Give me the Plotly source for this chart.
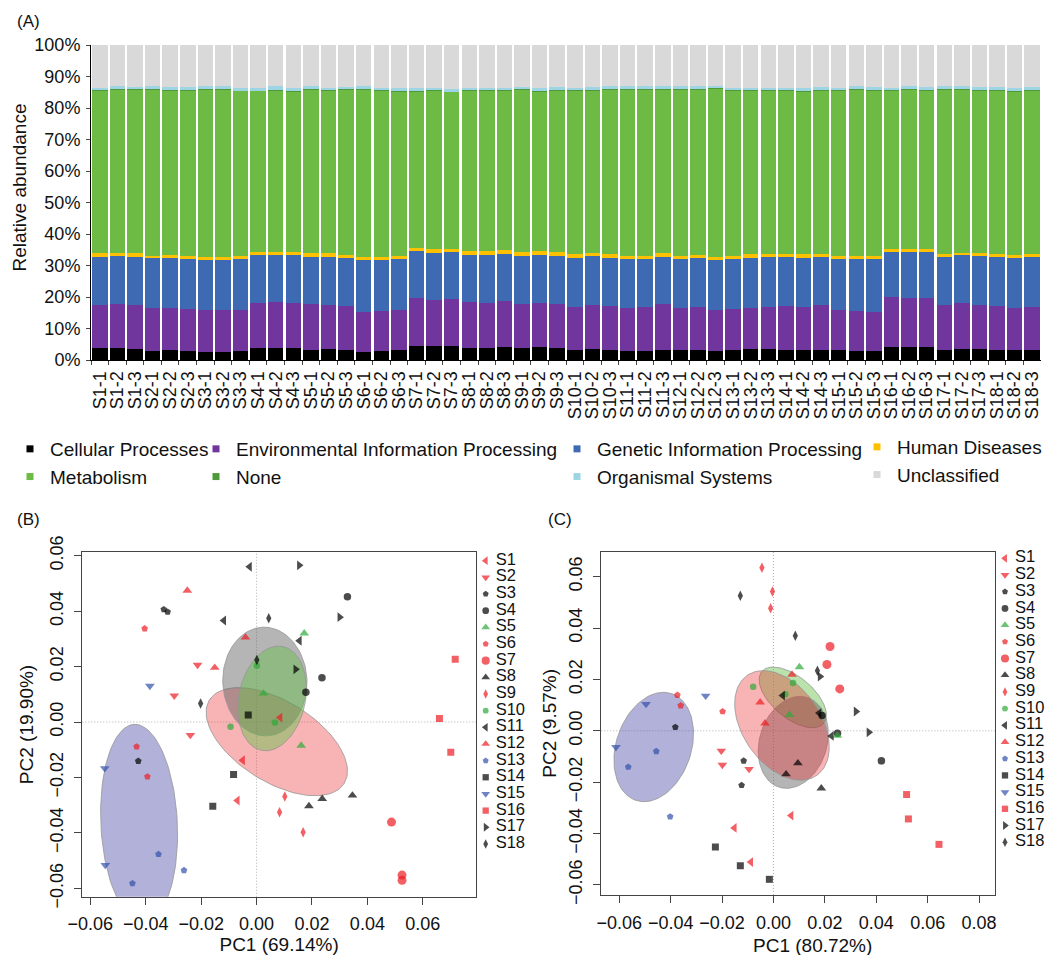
import numpy as np
import plotly.graph_objects as go

# ---------------- Panel A data (relative abundance, %) ----------------
samples = ["S1-1", "S1-2", "S1-3", "S2-1", "S2-2", "S2-3", "S3-1", "S3-2", "S3-3",
           "S4-1", "S4-2", "S4-3", "S5-1", "S5-2", "S5-3", "S6-1", "S6-2", "S6-3",
           "S7-1", "S7-2", "S7-3", "S8-1", "S8-2", "S8-3", "S9-1", "S9-2", "S9-3",
           "S10-1", "S10-2", "S10-3", "S11-1", "S11-2", "S11-3", "S12-1", "S12-2", "S12-3",
           "S13-1", "S13-2", "S13-3", "S14-1", "S14-2", "S14-3", "S15-1", "S15-2", "S15-3",
           "S16-1", "S16-2", "S16-3", "S17-1", "S17-2", "S17-3", "S18-1", "S18-2", "S18-3"]

cellular = [3.7, 3.7, 3.4, 3.0, 3.3, 3.0, 2.6, 2.6, 3.0, 3.7, 3.7, 3.7, 3.3, 3.6, 3.3,
            2.6, 3.0, 3.3, 4.6, 4.4, 4.4, 3.9, 3.9, 4.1, 3.9, 4.1, 3.9, 3.3, 3.6, 3.3,
            3.0, 3.0, 3.3, 3.3, 3.3, 2.9, 3.3, 3.6, 3.6, 3.3, 3.3, 3.3, 3.3, 3.0, 3.0,
            4.2, 4.0, 4.2, 3.3, 3.6, 3.6, 3.3, 3.3, 3.3]
environmental = [13.8, 14.1, 14.1, 13.4, 13.1, 13.2, 13.2, 13.2, 12.8, 14.5, 14.6, 14.3,
                 14.4, 13.9, 13.8, 12.7, 12.7, 12.6, 15.0, 14.6, 14.9, 14.4, 14.3, 14.5,
                 13.8, 14.1, 14.0, 13.4, 13.9, 13.8, 13.6, 13.7, 14.4, 13.3, 13.4, 13.0,
                 12.9, 12.8, 13.3, 13.8, 13.6, 14.1, 12.5, 12.7, 12.3, 15.7, 15.8, 15.6,
                 14.2, 14.4, 13.9, 13.8, 13.1, 13.6]
genetic = [15.3, 15.2, 15.3, 15.9, 15.9, 16.0, 16.1, 16.1, 16.3, 15.2, 15.1, 15.4,
           15.1, 15.2, 15.4, 16.4, 16.2, 16.2, 15.0, 15.0, 14.9, 15.1, 15.2, 15.2,
           15.3, 15.2, 15.2, 15.8, 15.4, 15.4, 15.6, 15.5, 15.1, 15.6, 15.8, 15.8,
           16.0, 16.1, 15.7, 15.5, 15.6, 15.2, 16.2, 16.3, 16.7, 14.3, 14.4, 14.4,
           15.3, 15.3, 15.4, 15.5, 16.1, 15.7]
human = [1.1, 0.9, 1.1, 0.8, 1.0, 0.7, 0.9, 0.9, 0.8, 1.0, 1.0, 1.0, 1.1, 1.2, 0.9,
         1.0, 0.9, 0.9, 1.1, 1.1, 1.0, 1.2, 1.2, 1.0, 1.3, 1.3, 1.2, 1.0, 1.1, 1.2,
         0.9, 0.9, 1.2, 0.9, 0.8, 1.0, 0.9, 1.0, 1.1, 0.9, 1.0, 0.9, 1.0, 0.9, 0.9,
         1.1, 1.0, 1.1, 1.0, 0.8, 1.0, 0.9, 0.8, 0.9]
metabolism = [51.7, 52.0, 51.9, 52.8, 52.4, 52.8, 53.0, 53.0, 52.5, 51.0, 51.3, 50.9,
              52.0, 51.6, 52.4, 53.1, 52.7, 52.3, 49.6, 50.4, 49.9, 50.9, 50.9, 50.7,
              51.5, 50.6, 51.4, 52.0, 51.7, 52.1, 52.8, 52.9, 51.8, 52.7, 52.6, 53.4,
              52.5, 52.1, 51.9, 52.1, 51.8, 52.2, 52.5, 52.9, 52.8, 50.2, 50.6, 50.4,
              52.1, 51.7, 51.8, 52.2, 52.0, 52.1]
none_cat = [0.1, 0.1, 0.1, 0.1, 0.1, 0.1, 0.1, 0.1, 0.1, 0.1, 0.1, 0.1, 0.1, 0.1, 0.1,
            0.1, 0.1, 0.1, 0.1, 0.1, 0.1, 0.1, 0.1, 0.1, 0.1, 0.1, 0.1, 0.1, 0.1, 0.1,
            0.1, 0.1, 0.1, 0.1, 0.1, 0.1, 0.1, 0.1, 0.1, 0.1, 0.1, 0.1, 0.1, 0.1, 0.1,
            0.1, 0.1, 0.1, 0.1, 0.1, 0.1, 0.1, 0.1, 0.1]
organismal = [0.8, 1.0, 0.8, 1.0, 0.8, 0.9, 1.0, 1.0, 0.8, 0.8, 1.1, 0.9, 1.0, 0.9, 0.9,
              1.1, 0.7, 0.8, 0.9, 0.9, 0.9, 0.9, 0.9, 0.9, 0.8, 0.9, 0.9, 0.7, 0.9, 1.0,
              1.0, 1.0, 1.0, 1.0, 1.0, 0.9, 0.8, 0.8, 0.8, 0.8, 0.9, 0.9, 0.7, 1.0, 0.9,
              0.7, 1.0, 0.9, 1.1, 1.1, 0.9, 0.9, 0.9, 1.0]
unclassified = [13.5, 13.0, 13.3, 13.0, 13.4, 13.3, 13.1, 13.1, 13.7, 13.7, 13.1, 13.7,
                13.0, 13.5, 13.2, 13.0, 13.7, 13.8, 13.7, 13.5, 13.9, 13.5, 13.5, 13.5,
                13.3, 13.7, 13.3, 13.7, 13.3, 13.1, 13.0, 12.9, 13.1, 13.1, 13.0, 12.9,
                13.5, 13.5, 13.5, 13.5, 13.7, 13.3, 13.7, 13.1, 13.3, 13.7, 13.1, 13.3,
                12.9, 13.0, 13.3, 13.3, 13.7, 13.3]

categories_A = ["Cellular Processes", "Environmental Information Processing",
                "Genetic Information Processing", "Human Diseases", "Metabolism",
                "None", "Organismal Systems", "Unclassified"]

# ---------------- Panels B/C data (PCA scores) ----------------
groups = ["S1", "S2", "S3", "S4", "S5", "S6", "S7", "S8", "S9", "S10",
          "S11", "S12", "S13", "S14", "S15", "S16", "S17", "S18"]

b_pc1 = [0.0085, -0.0050, -0.0069, -0.0213, -0.0297, -0.0239, -0.0335, -0.0321, -0.0427,
         0.0328, 0.0236, 0.0178, 0.0172, 0.0025, 0.0161, -0.0404, -0.0433, -0.0394,
         0.0487, 0.0525, 0.0525, 0.0346, 0.0237, 0.0189, 0.0102, 0.0083, 0.0168,
         0.0001, 0.0066, -0.0094, -0.0025, -0.0118, 0.0155, -0.0250, -0.0040, -0.0151,
         -0.0354, -0.0262, -0.0448, -0.0030, -0.0083, -0.0158, -0.0385, -0.0548, -0.0546,
         0.0717, 0.0660, 0.0701, 0.0154, 0.0300, 0.0141, 0.0044, 0.0001, -0.0202]
b_pc2 = [0.0016, -0.0138, -0.0283, 0.0206, 0.0095, -0.0047, 0.0406, 0.0397, -0.0141,
         0.0452, 0.0160, 0.0107, 0.0320, 0.0103, -0.0085, 0.0337, -0.0089, -0.0197,
         -0.0361, -0.0552, -0.0571, -0.0265, -0.0277, -0.0303, -0.0269, -0.0325, -0.0398,
         0.0203, -0.0002, -0.0017, 0.0560, 0.0366, 0.0293, 0.0474, 0.0305, 0.0196,
         -0.0477, -0.0535, -0.0582, 0.0025, -0.0189, -0.0304, 0.0130, -0.0167, -0.0516,
         0.0226, 0.0013, -0.0109, 0.0565, 0.0378, 0.0190, 0.0374, 0.0224, 0.0067]

c_pc1 = [0.0069, -0.0152, -0.0088, -0.0203, -0.0199, -0.0095, -0.0382, -0.0116, -0.0124,
         0.0189, 0.0249, 0.0420, 0.0101, 0.0062, 0.0249, -0.0374, -0.0361, -0.0198,
         0.0220, 0.0208, 0.0258, 0.0095, 0.0049, 0.0186, -0.0045, -0.0004, -0.0011,
         -0.0079, 0.0076, 0.0046, 0.0036, 0.0178, 0.0226, 0.0072, -0.0052, -0.0033,
         -0.0456, -0.0565, -0.0402, -0.0226, -0.0129, -0.0016, -0.0264, -0.0496, -0.0613,
         0.0518, 0.0525, 0.0644, 0.0181, 0.0321, 0.0371, -0.0129, 0.0085, 0.0171]
c_pc2 = [-0.0330, -0.0378, -0.0511, -0.0078, -0.0133, -0.0149, 0.0014, -0.0117, -0.0212,
         0.0060, -0.0010, -0.0117, 0.0248, 0.0062, -0.0019, 0.0139, 0.0098, 0.0075,
         0.0328, 0.0258, 0.0163, -0.0126, -0.0169, -0.0224, 0.0635, 0.0542, 0.0477,
         0.0171, 0.0186, 0.0142, 0.0137, 0.0069, -0.0020, 0.0219, 0.0111, 0.0029,
         -0.0080, -0.0141, -0.0334, -0.0452, -0.0525, -0.0578, 0.0136, 0.0104, -0.0064,
         -0.0248, -0.0343, -0.0442, 0.0211, 0.0075, -0.0006, 0.0526, 0.0370, 0.0234]

# ellipses: centre x, centre y, semi-major, semi-minor, angle (deg)
b_ell_cx = [0.0073, 0.0030, 0.0056, -0.0424]
b_ell_cy = [-0.0071, 0.0146, 0.0085, -0.0366]
b_ell_a = [0.0286, 0.0196, 0.0191, 0.0358]
b_ell_b = [0.0146, 0.0152, 0.0120, 0.0138]
b_ell_ang = [-31.7, 92.0, 78.3, 92.8]
b_ell_fill = ["rgba(235,40,40,0.35)", "rgba(90,90,90,0.45)", "rgba(100,190,70,0.45)", "rgba(90,90,175,0.47)"]

c_ell_cx = [0.0075, 0.0077, 0.0033, -0.0466]
c_ell_cy = [0.0130, -0.0045, 0.0021, -0.0063]
c_ell_a = [0.0157, 0.0183, 0.0237, 0.0219]
c_ell_b = [0.0080, 0.0131, 0.0152, 0.0146]
c_ell_ang = [-40.0, 72.7, 124.7, 71.5]
c_ell_fill = ["rgba(100,190,70,0.45)", "rgba(90,90,90,0.45)", "rgba(235,40,40,0.35)", "rgba(90,90,175,0.47)"]

# ---------------- geometry helpers (page has an 8px body margin) ----------------
W, H = 1047, 947
OFF = 8


def fx(px):
    return (px - OFF) / W


def fy(py):
    return 1 - (py - OFF) / H


# ---------------- styles ----------------
FONT = "Liberation Sans, Arial, sans-serif"
colA = ["#000000", "#70369D", "#3E6AB3", "#FFC000", "#6DBB45", "#4E9A3A", "#9DD5E5", "#D9D9D9"]
legA = ["legend", "legend2", "legend3", "legend4", "legend", "legend2", "legend3", "legend4"]
valsA = [cellular, environmental, genetic, human, metabolism, none_cat, organismal, unclassified]

RED, BLK, GRN, BLU = "#EC1C24", "#000000", "#2EAA3A", "#3250A8"
g_style = {
    "S1": ("triangle-left", RED, 8.5), "S2": ("triangle-down", RED, 8.5),
    "S3": ("pentagon", BLK, 7), "S4": ("circle", BLK, 7.5),
    "S5": ("triangle-up", GRN, 8.5), "S6": ("pentagon", RED, 7),
    "S7": ("circle", RED, 9), "S8": ("triangle-up", BLK, 8.5),
    "S9": ("diamond-tall", RED, 7.5), "S10": ("circle", GRN, 6.5),
    "S11": ("triangle-left", BLK, 8.5), "S12": ("triangle-up", RED, 8.5),
    "S13": ("pentagon", BLU, 7), "S14": ("square", BLK, 7),
    "S15": ("triangle-down", BLU, 8.5), "S16": ("square", RED, 7),
    "S17": ("triangle-right", BLK, 8.5), "S18": ("diamond-tall", BLK, 7.5),
}
point_groups = [s.split("-")[0] for s in samples]

fig = go.Figure()

# ---------------- Panel A ----------------
for name, vals, col in zip(categories_A, valsA, colA):
    fig.add_trace(go.Bar(x=samples, y=vals, name=name, marker=dict(color=col, line_width=0),
                         xaxis="x", yaxis="y", showlegend=False))
for name, col, leg in zip(categories_A, colA, legA):
    fig.add_trace(go.Scatter(x=[None], y=[None], mode="markers", name=name, legend=leg,
                             marker=dict(symbol="square", size=7, color=col),
                             xaxis="x", yaxis="y"))


def ellipse_pts(cx, cy, a, b, ang):
    t = np.linspace(0, 2 * np.pi, 120)
    th = np.deg2rad(ang)
    x = cx + a * np.cos(th) * np.cos(t) - b * np.sin(th) * np.sin(t)
    y = cy + a * np.sin(th) * np.cos(t) + b * np.cos(th) * np.sin(t)
    return x, y


def add_pca(xs, ys, ecx, ecy, ea, eb, eang, efill, xa, ya):
    for cx, cy, a, b, ang, fc in zip(ecx, ecy, ea, eb, eang, efill):
        ex, ey = ellipse_pts(cx, cy, a, b, ang)
        fig.add_trace(go.Scatter(x=ex, y=ey, mode="lines", fill="toself", fillcolor=fc,
                                 line=dict(color="rgba(150,150,150,0.8)", width=1),
                                 xaxis=xa, yaxis=ya, showlegend=False, hoverinfo="skip"))
    fig.add_trace(go.Scatter(
        x=xs, y=ys, mode="markers", xaxis=xa, yaxis=ya, showlegend=False,
        marker=dict(symbol=[g_style[g][0] for g in point_groups],
                    color=[g_style[g][1] for g in point_groups],
                    size=[g_style[g][2] for g in point_groups], line_width=0)))


add_pca(b_pc1, b_pc2, b_ell_cx, b_ell_cy, b_ell_a, b_ell_b, b_ell_ang, b_ell_fill, "x2", "y2")
add_pca(c_pc1, c_pc2, c_ell_cx, c_ell_cy, c_ell_a, c_ell_b, c_ell_ang, c_ell_fill, "x3", "y3")

# group legends for B and C drawn on small helper axes
for xa, ya in (("x4", "y4"), ("x5", "y5")):
    fig.add_trace(go.Scatter(
        x=[0] * len(groups), y=groups, mode="markers", xaxis=xa, yaxis=ya, showlegend=False,
        cliponaxis=False,
        marker=dict(symbol=[g_style[g][0] for g in groups], color=[g_style[g][1] for g in groups],
                    size=[g_style[g][2] * 0.9 for g in groups], line_width=0)))
    fig.add_trace(go.Scatter(
        x=[1] * len(groups), y=groups, mode="text", text=groups, textposition="middle right",
        textfont=dict(family=FONT, size=16.5, color="#111111"), cliponaxis=False,
        xaxis=xa, yaxis=ya, showlegend=False))

tickfont = dict(family=FONT, size=18, color="#111111")
titlefont = dict(family=FONT, size=19, color="#111111")

pca_ax = dict(showgrid=False, zeroline=False, showline=True, mirror=True, linecolor="#444444",
              linewidth=1, ticks="outside", ticklen=7, tickcolor="#444444", tickfont=tickfont,
              tickformat=".2f", dtick=0.02, ticklabelstandoff=4, automargin=False)

fig.update_layout(
    width=W, height=H, margin=dict(l=0, r=0, t=0, b=0, autoexpand=False),
    paper_bgcolor="white", plot_bgcolor="white",
    barmode="stack", bargap=0.12, showlegend=True,
    font=dict(family=FONT, color="#111111"),
    xaxis=dict(domain=[fx(91), fx(1041)], anchor="y", type="category", automargin=False,
               showline=True, linecolor="#000000", linewidth=1, ticks="outside", ticklen=4,
               tickson="boundaries", tickangle=-90, tickfont=tickfont, showgrid=False,
               tickmode="linear", tick0=0, dtick=1, ticklabelstandoff=3),
    yaxis=dict(domain=[fy(360), fy(45)], anchor="x", range=[0, 100], dtick=10,
               ticksuffix="%", showline=True, linecolor="#000000", linewidth=1, automargin=False,
               ticks="outside", ticklen=4, tickfont=tickfont, showgrid=False, zeroline=False,
               ticklabelstandoff=2),
    xaxis2=dict(pca_ax, domain=[fx(82.3), fx(476)], anchor="y2", range=[-0.0629, 0.0792],
                tickvals=[-0.06, -0.04, -0.02, 0, 0.02, 0.04, 0.06],
                title=dict(text="PC1 (69.14%)", font=titlefont, standoff=4)),
    yaxis2=dict(pca_ax, domain=[fy(896.7), fy(552.3)], anchor="x2", range=[-0.063, 0.0612],
                tickvals=[-0.06, -0.04, -0.02, 0, 0.02, 0.04, 0.06], tickangle=-90,
                title=dict(text="PC2 (19.90%)", font=titlefont, standoff=8)),
    xaxis3=dict(pca_ax, domain=[fx(601.3), fx(995)], anchor="y3", range=[-0.0670, 0.0862],
                tickvals=[-0.06, -0.04, -0.02, 0, 0.02, 0.04, 0.06, 0.08]),
    yaxis3=dict(pca_ax, domain=[fy(895), fy(551.7)], anchor="x3", range=[-0.0639, 0.0697],
                tickvals=[-0.06, -0.04, -0.02, 0, 0.02, 0.04, 0.06], tickangle=-90,
                title=dict(text="PC2 (9.57%)", font=titlefont, standoff=4)),
    xaxis4=dict(domain=[fx(480), fx(560)], anchor="y4", range=[-0.57, 7.43], visible=False,
                automargin=False),
    yaxis4=dict(domain=[fy(852.25), fy(552.37)], anchor="x4", type="category",
                categoryorder="array", categoryarray=groups, range=[17.5, -0.5], visible=False,
                automargin=False),
    xaxis5=dict(domain=[fx(999), 1.0], anchor="y5", range=[-0.6, 5.0], visible=False,
                automargin=False),
    yaxis5=dict(domain=[fy(850.55), fy(549.95)], anchor="x5", type="category",
                categoryorder="array", categoryarray=groups, range=[17.5, -0.5], visible=False,
                automargin=False),
)

leg_common = dict(orientation="v", yanchor="top", xanchor="left", bgcolor="rgba(0,0,0,0)",
                  font=dict(family=FONT, size=19, color="#111111"), itemwidth=30,
                  tracegroupgap=0, traceorder="normal")
fig.update_layout(
    legend=dict(leg_common, x=fx(10), y=fy(430)),
    legend2=dict(leg_common, x=fx(196), y=fy(430)),
    legend3=dict(leg_common, x=fx(557), y=fy(430)),
    legend4=dict(leg_common, x=fx(857), y=fy(428)),
)

# dotted reference lines at zero in B and C
shapes = []
for ax in ("2", "3"):
    shapes.append(dict(type="line", xref="x" + ax, yref="y" + ax + " domain", x0=0, x1=0, y0=0, y1=1,
                       line=dict(color="#b0b0b0", width=1, dash="1px,2px"), layer="below"))
    shapes.append(dict(type="line", xref="x" + ax + " domain", yref="y" + ax, x0=0, x1=1, y0=0, y1=0,
                       line=dict(color="#b0b0b0", width=1, dash="1px,2px"), layer="below"))
fig.update_layout(shapes=shapes)

panel_font = dict(family=FONT, size=17, color="#111111")
fig.add_annotation(text="(A)", x=fx(15), y=fy(21.7), xref="paper", yref="paper",
                   xanchor="left", yanchor="middle", showarrow=False, font=panel_font)
fig.add_annotation(text="(B)", x=fx(15), y=fy(520), xref="paper", yref="paper",
                   xanchor="left", yanchor="middle", showarrow=False, font=panel_font)
fig.add_annotation(text="(C)", x=fx(546), y=fy(520), xref="paper", yref="paper",
                   xanchor="left", yanchor="middle", showarrow=False, font=panel_font)
fig.add_annotation(text="Relative abundance", x=fx(19), y=fy(187.5), xref="paper", yref="paper",
                   xanchor="center", yanchor="middle", textangle=-90, showarrow=False,
                   font=titlefont)
fig.add_annotation(text="PC1 (80.72%)", x=fx(812), y=fy(945), xref="paper", yref="paper",
                   xanchor="center", yanchor="middle", showarrow=False, font=titlefont)

fig.write_html("out.html")
